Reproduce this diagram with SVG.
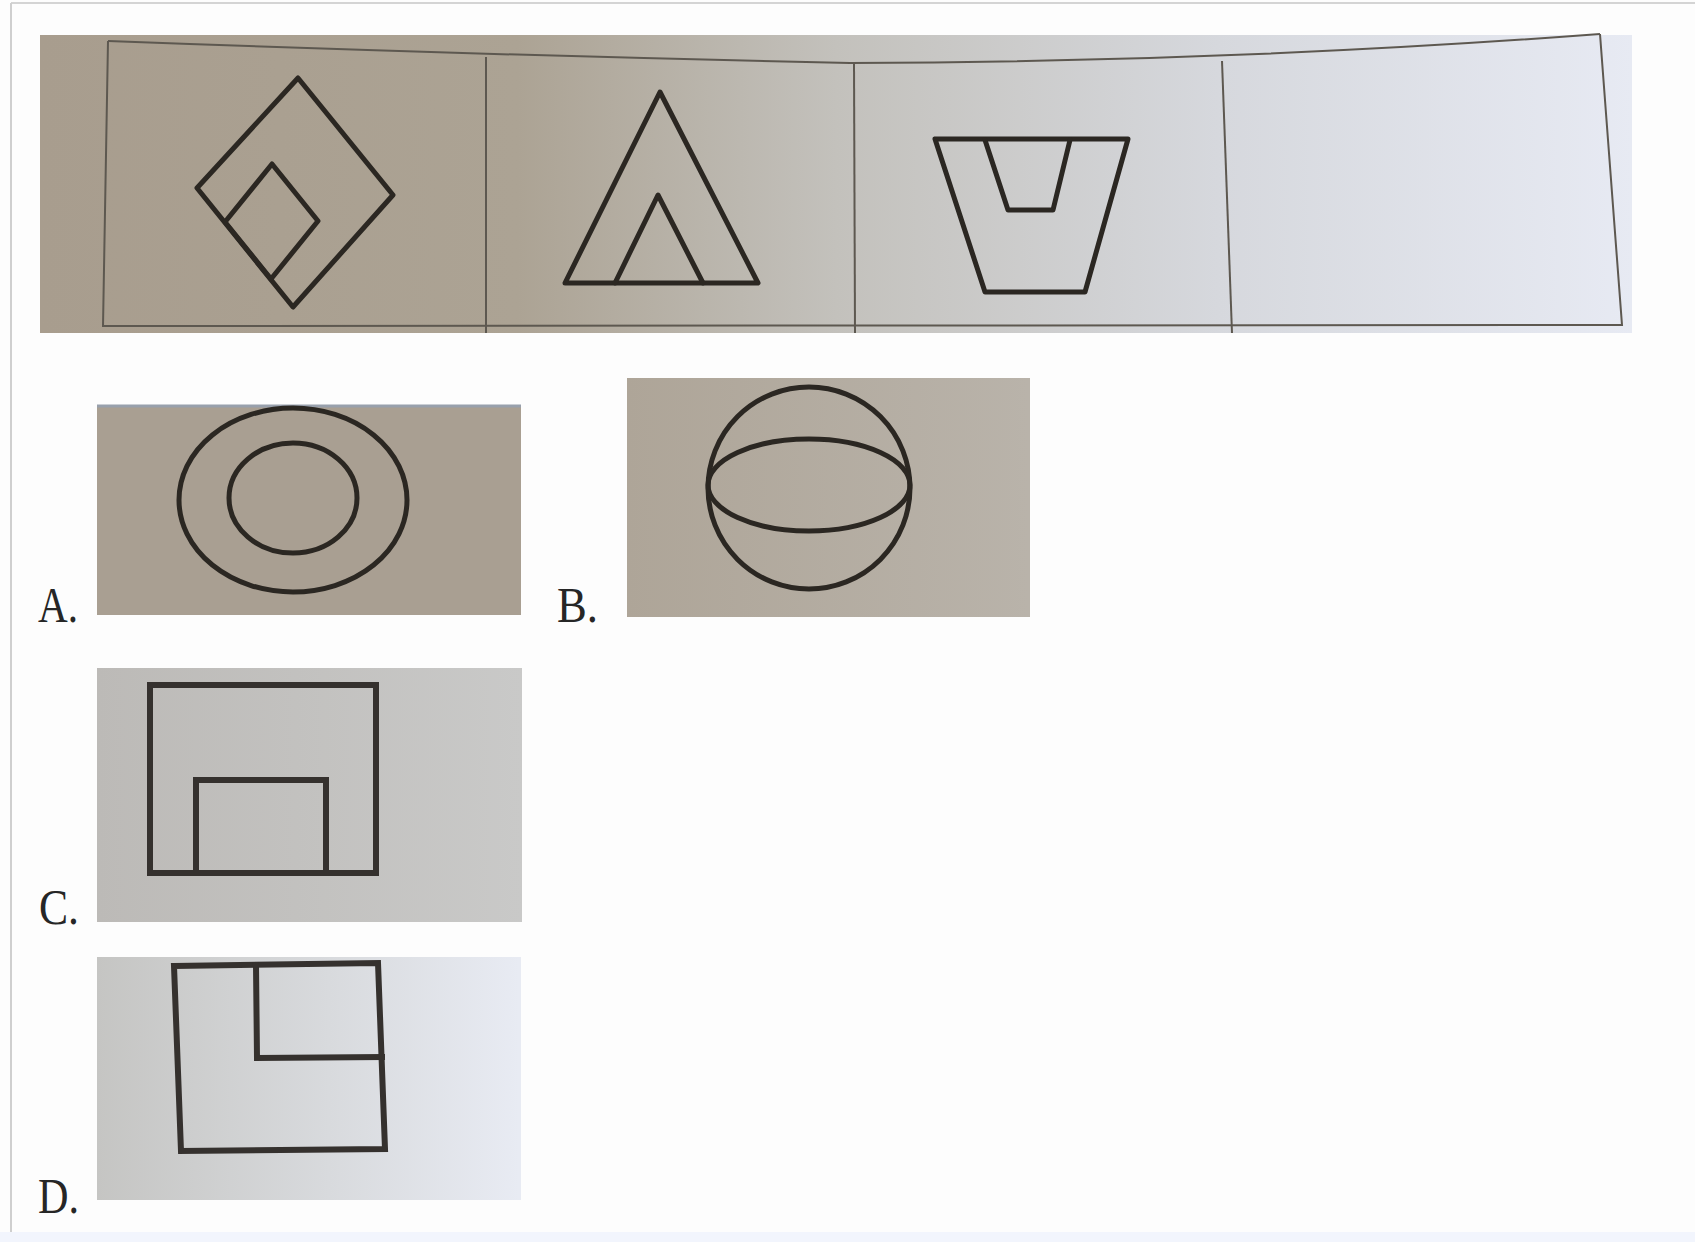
<svg xmlns="http://www.w3.org/2000/svg" width="1695" height="1242" viewBox="0 0 1695 1242">
<defs>
<linearGradient id="stripBg" x1="40" y1="0" x2="1632" y2="0" gradientUnits="userSpaceOnUse">
<stop offset="0" stop-color="#a89d8e"/>
<stop offset="0.3" stop-color="#aca394"/>
<stop offset="0.5" stop-color="#c3c1bc"/>
<stop offset="0.74" stop-color="#d6d8dd"/>
<stop offset="1" stop-color="#e7eaf3"/>
</linearGradient>
<linearGradient id="dBg" x1="97" y1="0" x2="519" y2="0" gradientUnits="userSpaceOnUse">
<stop offset="0" stop-color="#c5c5c3"/>
<stop offset="0.55" stop-color="#d8dadd"/>
<stop offset="1" stop-color="#e8ebf3"/>
</linearGradient>
<linearGradient id="cBg" x1="97" y1="0" x2="522" y2="0" gradientUnits="userSpaceOnUse">
<stop offset="0" stop-color="#bcbab7"/>
<stop offset="1" stop-color="#c9c9c8"/>
</linearGradient>
<linearGradient id="bBg" x1="627" y1="0" x2="1029" y2="0" gradientUnits="userSpaceOnUse">
<stop offset="0" stop-color="#aea598"/>
<stop offset="1" stop-color="#b9b3aa"/>
</linearGradient>
</defs>
<style>
.ink{fill:none;stroke:#2b2722;stroke-width:5;stroke-linejoin:round;stroke-linecap:round}
.ink2{fill:none;stroke:#35312e;stroke-width:6;stroke-linejoin:miter;stroke-linecap:square}
.frame{fill:none;stroke:#5d5850;stroke-width:2}
.lbl{font-family:"Liberation Serif","Times New Roman",serif;font-size:50px;fill:#262626}
</style>
<rect width="1695" height="1242" fill="#fdfdfd"/>
<line x1="11" y1="3" x2="1695" y2="3" stroke="#d4d4d4" stroke-width="2"/>
<line x1="11" y1="3" x2="11" y2="1242" stroke="#cfcfcf" stroke-width="2"/>
<rect x="0" y="1232" width="1695" height="10" fill="#f2f5fd"/>

<g id="question-strip">
<rect x="40" y="35" width="1592" height="298" fill="url(#stripBg)"/>
<path class="frame" d="M108,41 Q480,55 850,63 Q1230,62 1600,34"/>
<path class="frame" d="M108,41 L103,326 L1622,325 L1600,34"/>
<line class="frame" x1="486" y1="57" x2="486" y2="333"/>
<line class="frame" x1="854" y1="63" x2="855" y2="333"/>
<line class="frame" x1="1222" y1="61" x2="1232" y2="333"/>
<g id="fig1">
<polygon class="ink" points="298,78 393,195 293,307 197,188"/>
<polygon class="ink" points="272,164 318,221 271,279 225,222"/>
</g>
<g id="fig2">
<polygon class="ink" points="660,92 758,283 565,283"/>
<polyline class="ink" points="615,283 658,195 703,283"/>
</g>
<g id="fig3">
<polygon class="ink" points="935,139 1128,139 1085,292 985,292"/>
<polyline class="ink" points="985,140 1008,210 1053,210 1070,140"/>
</g>
</g>

<g id="option-a">
<rect x="97" y="405" width="424" height="210" fill="#a99f92"/>
<line x1="97" y1="406" x2="521" y2="406" stroke="#98a0ac" stroke-width="3"/>
<ellipse class="ink" cx="293" cy="500" rx="114" ry="92"/>
<ellipse class="ink" cx="293" cy="498" rx="64" ry="55"/>
<text class="lbl" x="38" y="622" textLength="40" lengthAdjust="spacingAndGlyphs">A.</text>
</g>

<g id="option-b">
<rect x="627" y="378" width="403" height="239" fill="url(#bBg)"/>
<ellipse class="ink" cx="809" cy="488" rx="101" ry="101"/>
<ellipse class="ink" cx="809" cy="485" rx="101" ry="46"/>
<text class="lbl" x="557" y="622" textLength="41" lengthAdjust="spacingAndGlyphs">B.</text>
</g>

<g id="option-c">
<rect x="97" y="668" width="425" height="254" fill="url(#cBg)"/>
<rect class="ink2" x="150" y="685" width="226" height="188"/>
<polyline class="ink2" points="196,873 196,780 326,780 326,873"/>
<text class="lbl" x="39" y="924" textLength="40" lengthAdjust="spacingAndGlyphs">C.</text>
</g>

<g id="option-d">
<rect x="97" y="957" width="424" height="243" fill="url(#dBg)"/>
<polygon class="ink2" points="174,966 378,963 385,1149 181,1151"/>
<polyline class="ink2" points="256,965 257,1058 382,1057"/>
<text class="lbl" x="38" y="1213" textLength="41" lengthAdjust="spacingAndGlyphs">D.</text>
</g>
</svg>
